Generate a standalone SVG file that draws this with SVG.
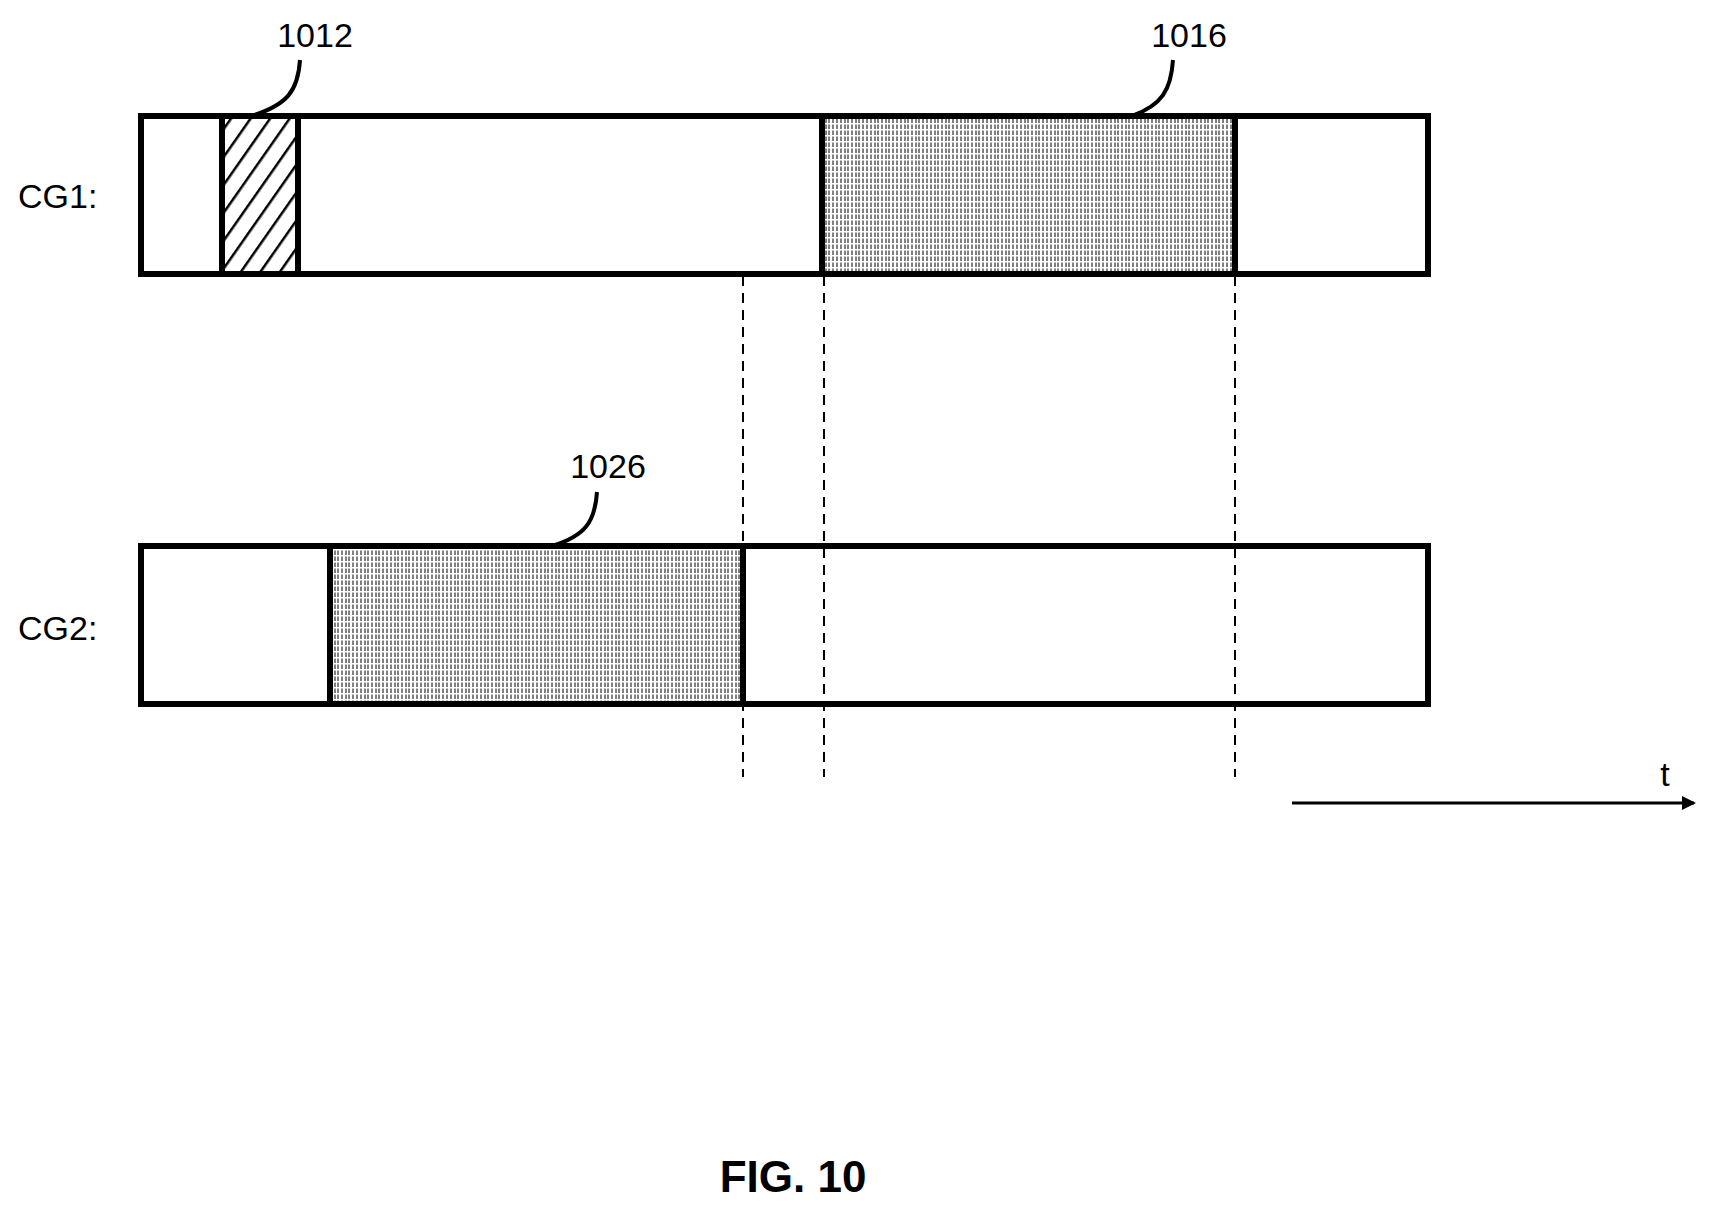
<svg xmlns="http://www.w3.org/2000/svg" width="1716" height="1209" viewBox="0 0 1716 1209">
<style>
.box{fill:none;stroke:#000;stroke-width:6}
.lbl{font-family:"Liberation Sans",Arial,sans-serif;font-size:34px;fill:#000}
.dash{stroke:#000;stroke-width:2;stroke-dasharray:10,7;fill:none}
.lead{stroke:#000;stroke-width:4;fill:none}
</style>
<defs>
<pattern id="diag" patternUnits="userSpaceOnUse" width="16" height="16" patternTransform="rotate(35)">
<rect width="16" height="16" fill="#fff"/><line x1="0" y1="0" x2="0" y2="16" stroke="#000" stroke-width="5"/>
</pattern>
<pattern id="vert" patternUnits="userSpaceOnUse" width="30" height="6">
<rect width="30" height="6" fill="#fff"/>
<g stroke="#000" stroke-width="1" stroke-dasharray="3,1.5">
<line x1="1" y1="0" x2="1" y2="6"/><line x1="5" y1="0" x2="5" y2="6"/><line x1="8" y1="0" x2="8" y2="6"/><line x1="12" y1="0" x2="12" y2="6"/><line x1="16" y1="0" x2="16" y2="6"/><line x1="19" y1="0" x2="19" y2="6"/><line x1="23" y1="0" x2="23" y2="6"/><line x1="27" y1="0" x2="27" y2="6"/>
</g>
</pattern>
<marker id="arr" markerWidth="14" markerHeight="14" refX="12" refY="7" orient="auto" markerUnits="userSpaceOnUse">
<path d="M0,0 L14,7 L0,14 z" fill="#000"/>
</marker>
</defs>
<rect width="1716" height="1209" fill="#fff"/>
<g id="cg1">
<text class="lbl" x="18" y="208">CG1:</text>
<rect class="box" x="141" y="116" width="1287" height="158" fill="#fff"/>
<g id="n1012"><rect x="222" y="116" width="76" height="158" fill="url(#diag)" stroke="#000" stroke-width="6"/></g>
<g id="n1016"><rect x="822" y="116" width="413" height="158" fill="url(#vert)" stroke="#000" stroke-width="6"/></g>
</g>
<g id="cg2">
<text class="lbl" x="18" y="640">CG2:</text>
<rect class="box" x="141" y="546" width="1287" height="158"/>
<g id="n1026"><rect x="330" y="546" width="413" height="158" fill="url(#vert)" stroke="#000" stroke-width="6"/></g>
</g>
<g id="labels">
<text class="lbl" x="315" y="47" text-anchor="middle">1012</text>
<text class="lbl" x="1189" y="47" text-anchor="middle">1016</text>
<text class="lbl" x="608" y="478" text-anchor="middle">1026</text>
<text class="lbl" x="1665" y="786" text-anchor="middle">t</text>
<text x="793" y="1192" text-anchor="middle" font-family="Liberation Sans,Arial,sans-serif" font-weight="bold" font-size="44">FIG. 10</text>
</g>
<g id="connectors">
<path class="lead" d="M300,60 C298,90 288,105 251,116"/>
<path class="lead" d="M1173,60 C1171,90 1162,105 1132,116"/>
<path class="lead" d="M597,492 C595,522 585,536 552,546"/>
<line class="dash" x1="743" y1="276" x2="743" y2="777"/>
<line class="dash" x1="824" y1="276" x2="824" y2="777"/>
<line class="dash" x1="1235" y1="276" x2="1235" y2="777"/>
<line x1="1292" y1="803" x2="1694" y2="803" stroke="#000" stroke-width="3" marker-end="url(#arr)"/>
</g>
</svg>
